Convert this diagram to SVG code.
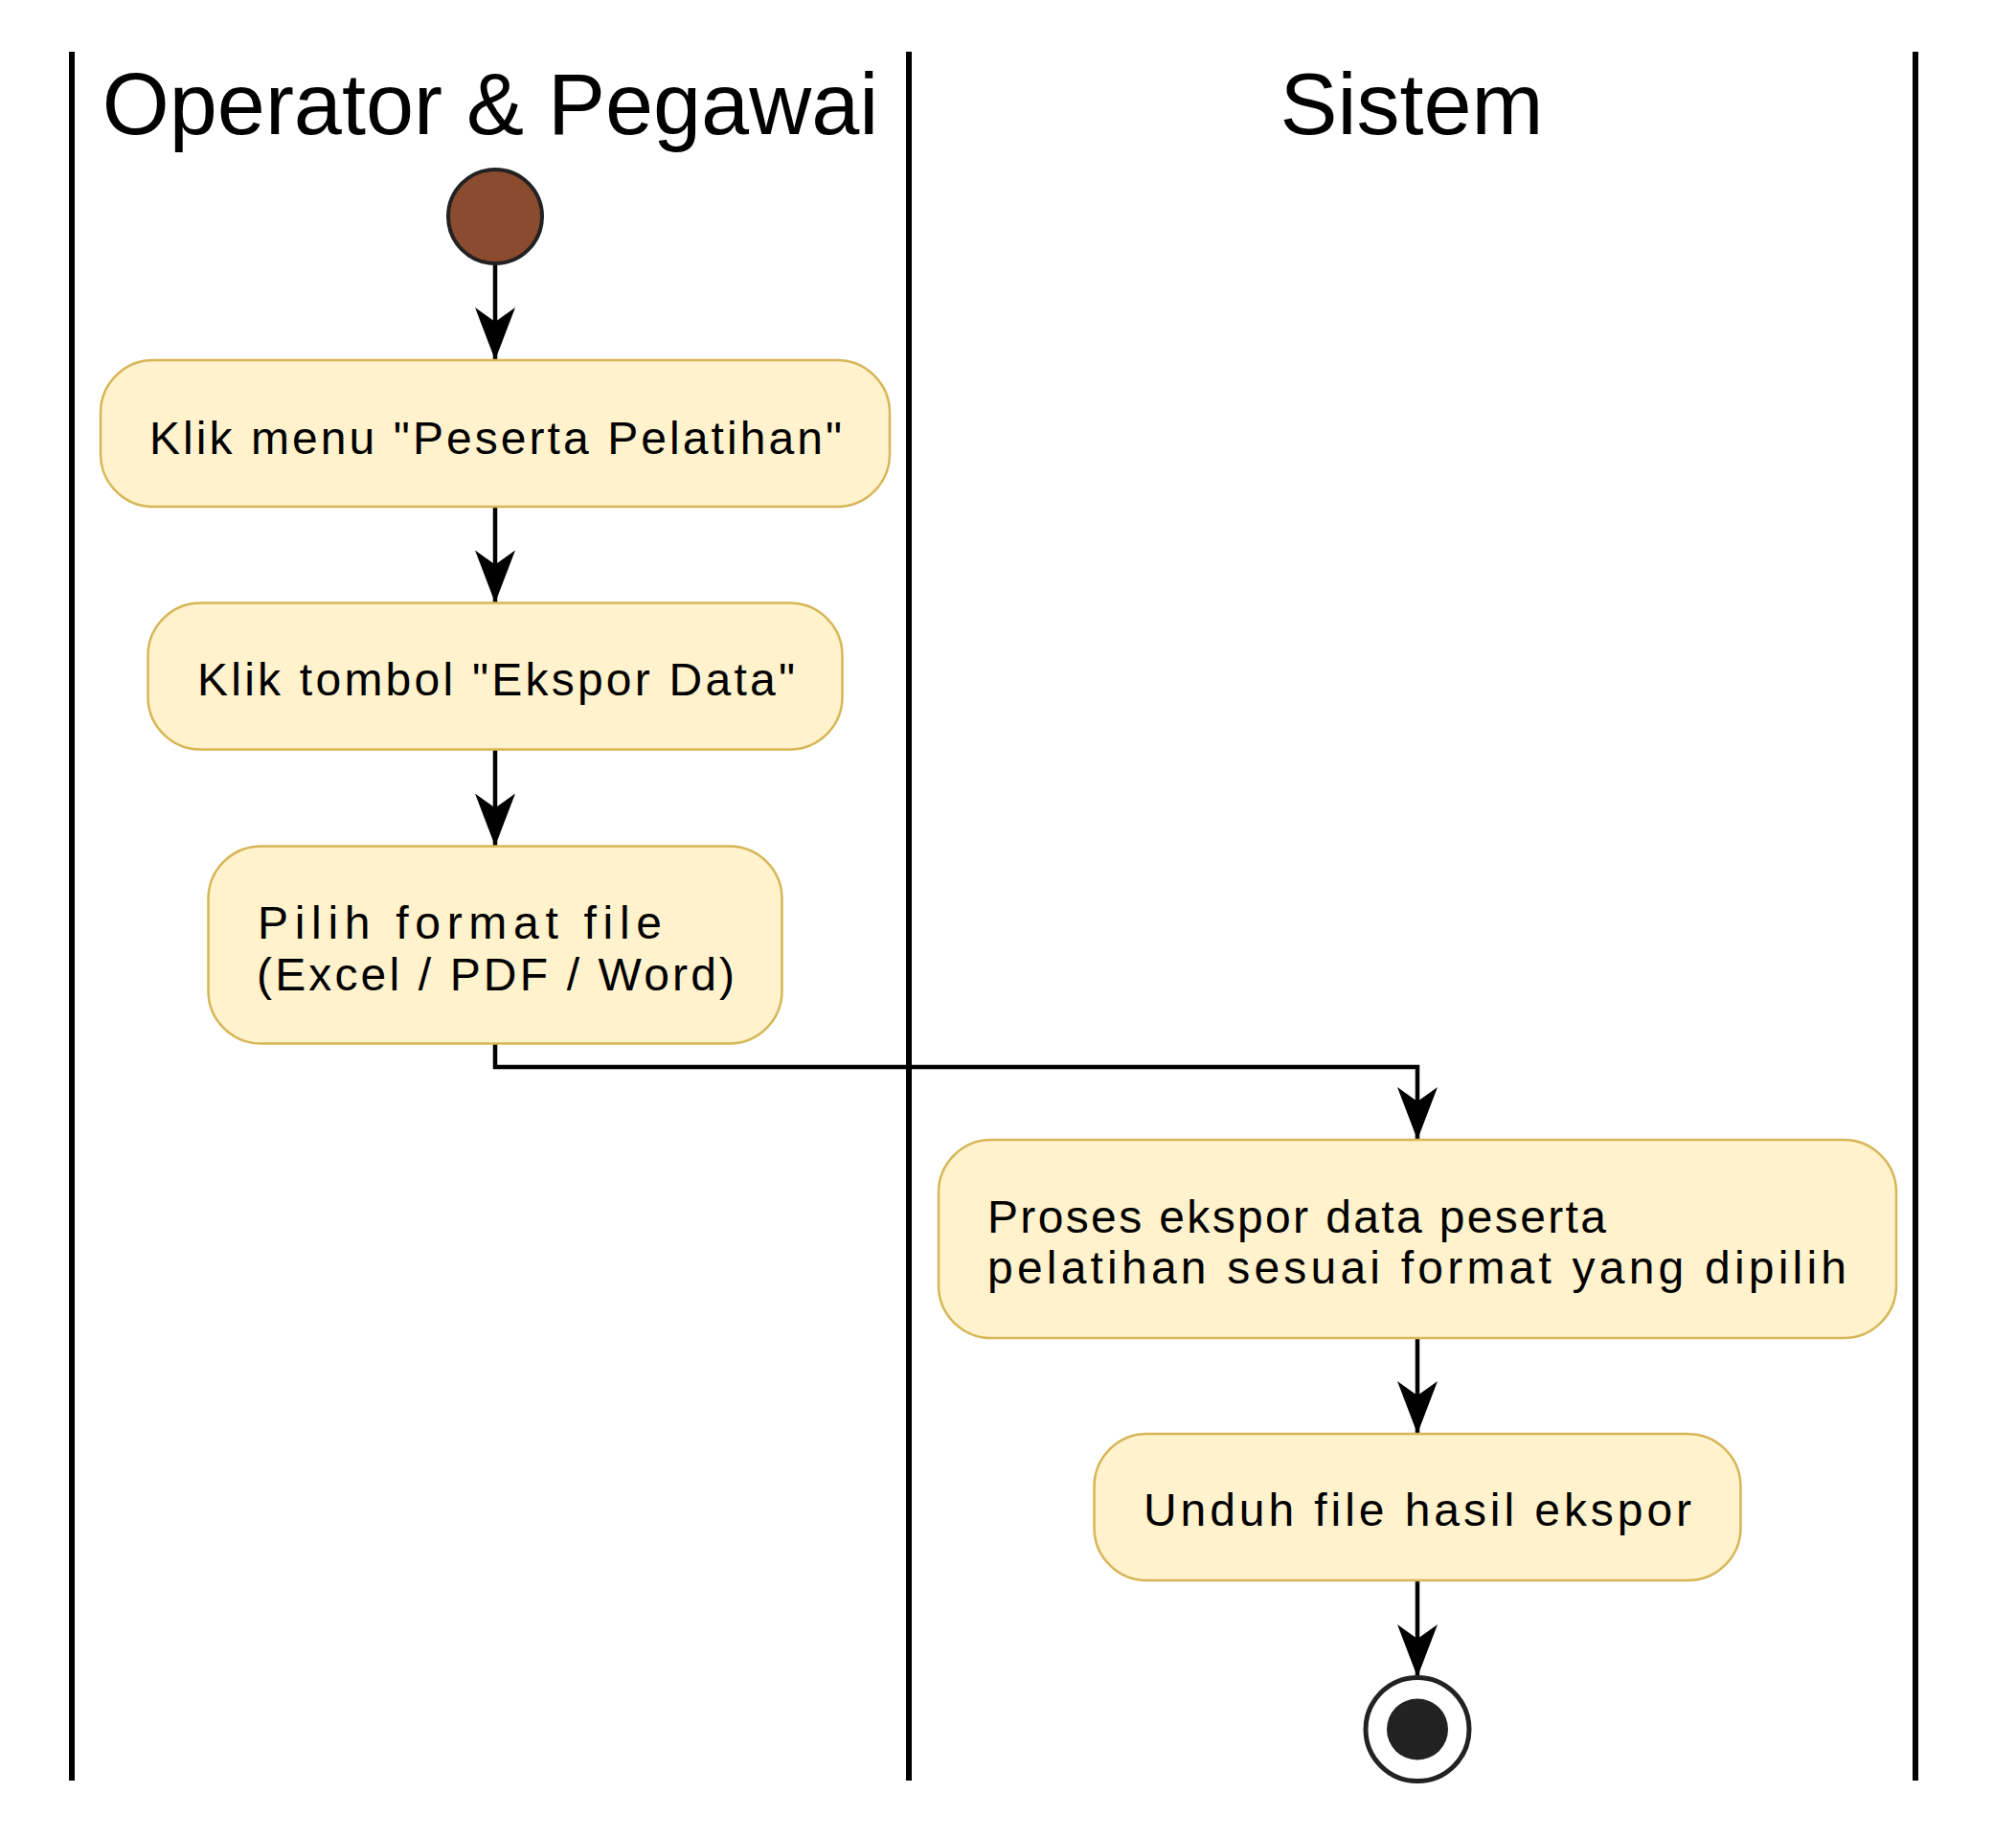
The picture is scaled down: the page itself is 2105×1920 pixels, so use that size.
<svg xmlns="http://www.w3.org/2000/svg" width="2105" height="1920" viewBox="0 0 2105 1920">
  <style>
    .lane { stroke: #000; stroke-width: 6; fill: none; }
    .hdr { font-family: "Liberation Sans", Arial, sans-serif; font-size: 90px; fill: #000; text-anchor: middle; }
    .act rect { fill: #FFF2CC; stroke: #D6B656; stroke-width: 2.5; }
    .act text { font-family: "Liberation Sans", Arial, sans-serif; font-size: 48px; fill: #000; }
    .edge { stroke: #000; stroke-width: 4.5; fill: none; marker-end: url(#ah); }
  </style>
  <defs>
    <marker id="ah" markerUnits="userSpaceOnUse" markerWidth="60" markerHeight="50" viewBox="-57 -25 60 50" refX="0" refY="0" orient="auto">
      <path d="M0,0 L-55,-21 L-40,0 L-55,21 Z" fill="#000"/>
    </marker>
  </defs>
  <rect width="2105" height="1920" fill="#fff"/>

  <g id="lanes">
    <line class="lane" x1="75" y1="54" x2="75" y2="1859"/>
    <line class="lane" x1="949" y1="54" x2="949" y2="1859"/>
    <line class="lane" x1="2000" y1="54" x2="2000" y2="1859"/>
    <text class="hdr" x="512" y="140">Operator &amp; Pegawai</text>
    <text class="hdr" x="1474" y="140">Sistem</text>
  </g>

  <g id="connectors">
    <line class="edge" x1="517" y1="276" x2="517" y2="376"/>
    <line class="edge" x1="517" y1="529" x2="517" y2="629.5"/>
    <line class="edge" x1="517" y1="782.5" x2="517" y2="883.5"/>
    <polyline class="edge" points="517,1089.5 517,1114 1480,1114 1480,1190"/>
    <line class="edge" x1="1480" y1="1397" x2="1480" y2="1497"/>
    <line class="edge" x1="1480" y1="1650" x2="1480" y2="1751"/>
  </g>

  <g id="start">
    <circle cx="517" cy="226" r="49" fill="#8B4B2F" stroke="#222" stroke-width="4"/>
  </g>

  <g id="a1" class="act">
    <rect x="105" y="376" width="824" height="153" rx="55" ry="55"/>
    <text x="156" y="474" textLength="723" lengthAdjust="spacing">Klik menu "Peserta Pelatihan"</text>
  </g>

  <g id="a2" class="act">
    <rect x="154.5" y="629.5" width="725" height="153" rx="55" ry="55"/>
    <text x="206" y="726" textLength="624" lengthAdjust="spacing">Klik tombol "Ekspor Data"</text>
  </g>

  <g id="a3" class="act">
    <rect x="217.5" y="883.5" width="599" height="206" rx="55" ry="55"/>
    <text x="269" y="980" textLength="422" lengthAdjust="spacing">Pilih format file</text>
    <text x="268" y="1034" textLength="499" lengthAdjust="spacing">(Excel / PDF / Word)</text>
  </g>

  <g id="a4" class="act">
    <rect x="980" y="1190" width="1000" height="207" rx="55" ry="55"/>
    <text x="1031" y="1287" textLength="646" lengthAdjust="spacing">Proses ekspor data peserta</text>
    <text x="1031" y="1340" textLength="897" lengthAdjust="spacing">pelatihan sesuai format yang dipilih</text>
  </g>

  <g id="a5" class="act">
    <rect x="1142.5" y="1497" width="675" height="153" rx="55" ry="55"/>
    <text x="1194" y="1593" textLength="572" lengthAdjust="spacing">Unduh file hasil ekspor</text>
  </g>

  <g id="end">
    <circle cx="1480" cy="1805.5" r="54" fill="#fff" stroke="#222" stroke-width="5"/>
    <circle cx="1480" cy="1805.5" r="32" fill="#222"/>
  </g>
</svg>
